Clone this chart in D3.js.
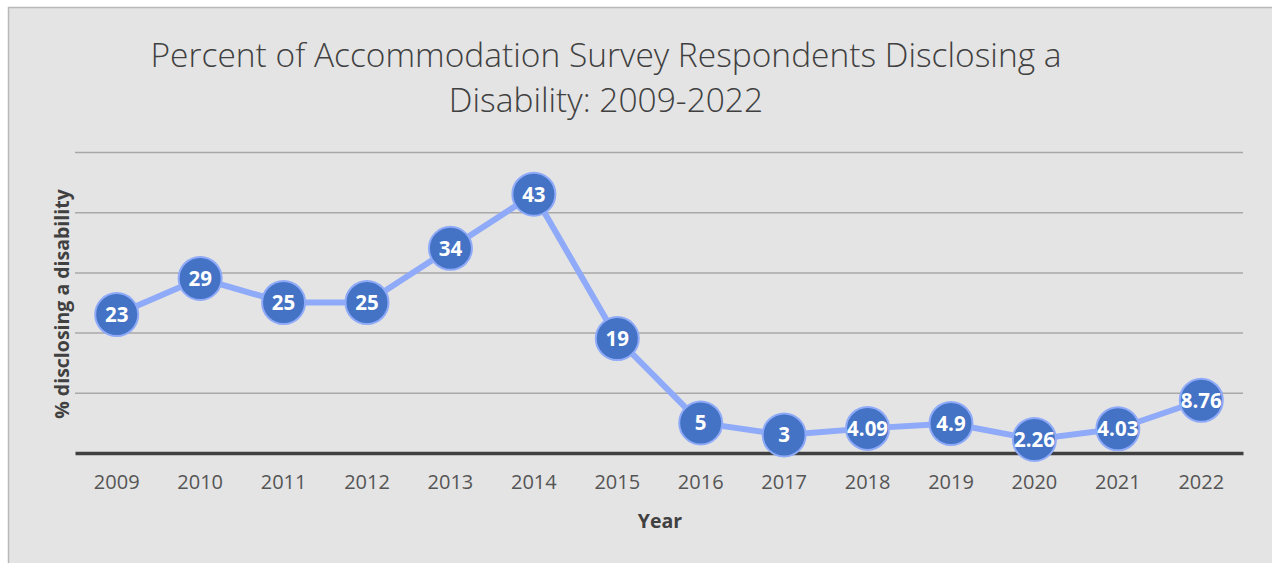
<!DOCTYPE html>
<html>
<head>
<meta charset="utf-8">
<script src="https://cdn.jsdelivr.net/npm/d3@7"></script>
<style>
  html, body { margin: 0; padding: 0; background: #ffffff; }
  svg { display: block; }
</style>
</head>
<body>
<svg id="chart" width="1272" height="563"></svg>
<script>
// Survey years and share of respondents disclosing a disability (%)
const years = ["2009","2010","2011","2012","2013","2014","2015","2016","2017","2018","2019","2020","2021","2022"];
const percents = [23, 29, 25, 25, 34, 43, 19, 5, 3, 4.09, 4.9, 2.26, 4.03, 8.76];
const labels = ["23","29","25","25","34","43","19","5","3","4.09","4.9","2.26","4.03","8.76"];
const gridValues = [10, 20, 30, 40, 50];
const titleLines = ["Percent of Accommodation Survey Respondents Disclosing a", "Disability: 2009-2022"];

const data = years.map((y, i) => ({ year: y, value: percents[i], label: labels[i] }));

const svg = d3.select("#chart");
const W = 1272, H = 563;
const plot = { left: 75, right: 1243, top: 152, bottom: 453 };
const font = "'Open Sans', 'Noto Sans', sans-serif";

// chart area panel
svg.append("rect")
  .attr("x", 8.5).attr("y", 7.5)
  .attr("width", W + 10).attr("height", H + 10)
  .attr("fill", "#e4e4e4")
  .attr("stroke", "#b9b9b9").attr("stroke-width", 1.5);

const x = d3.scaleBand().domain(years).range([plot.left, plot.right]);
const y = d3.scaleLinear().domain([0, 50]).range([plot.bottom, plot.top]);
const cx = d => x(d) + x.bandwidth() / 2;

// title
const title = svg.append("text")
  .attr("text-anchor", "middle")
  .attr("font-family", font).attr("font-weight", 300)
  .attr("font-size", 33.5).attr("fill", "#404040");
titleLines.forEach((t, i) => {
  title.append("tspan").attr("x", 606).attr("y", 67 + i * 45).text(t);
});

// horizontal gridlines
const yGrid = d3.axisLeft(y).tickValues(gridValues).tickSize(-(plot.right - plot.left)).tickFormat("");
const g = svg.append("g").attr("transform", `translate(${plot.left},0)`).call(yGrid);
g.select(".domain").remove();
g.selectAll(".tick line").attr("stroke", "#a8a8a8").attr("stroke-width", 1.5);

// category axis
const xAxis = d3.axisBottom(x).tickSize(0).tickPadding(22);
const ax = svg.append("g").attr("transform", `translate(0,${plot.bottom})`).call(xAxis);
ax.select(".domain").attr("stroke", "#404040").attr("stroke-width", 3.5);
ax.selectAll(".tick text")
  .attr("font-family", font).attr("font-size", 20).attr("fill", "#555555");

// axis titles
svg.append("text")
  .attr("x", 660).attr("y", 528)
  .attr("text-anchor", "middle")
  .attr("font-family", font).attr("font-weight", 700)
  .attr("font-size", 19.5).attr("fill", "#404040")
  .text("Year");

svg.append("text")
  .attr("transform", "translate(69,304) rotate(-90)")
  .attr("text-anchor", "middle")
  .attr("font-family", font).attr("font-weight", 700)
  .attr("font-size", 19.5).attr("fill", "#404040")
  .text("% disclosing a disability");

// series line
const line = d3.line().x(d => cx(d.year)).y(d => y(d.value));
svg.append("path")
  .datum(data)
  .attr("d", line)
  .attr("fill", "none")
  .attr("stroke", "#8eaaf8")
  .attr("stroke-width", 6)
  .attr("stroke-linejoin", "round");

// markers with value labels
const pts = svg.append("g").selectAll("g").data(data).join("g")
  .attr("transform", d => `translate(${cx(d.year)},${y(d.value)})`);
pts.append("circle")
  .attr("r", 21.5)
  .attr("fill", "#4472c4")
  .attr("stroke", "#8eaaf8")
  .attr("stroke-width", 2);
pts.append("text")
  .attr("text-anchor", "middle")
  .attr("dy", "0.36em")
  .attr("font-family", font).attr("font-weight", 700)
  .attr("font-size", 20.5).attr("fill", "#ffffff")
  .text(d => d.label);
</script>
</body>
</html>
